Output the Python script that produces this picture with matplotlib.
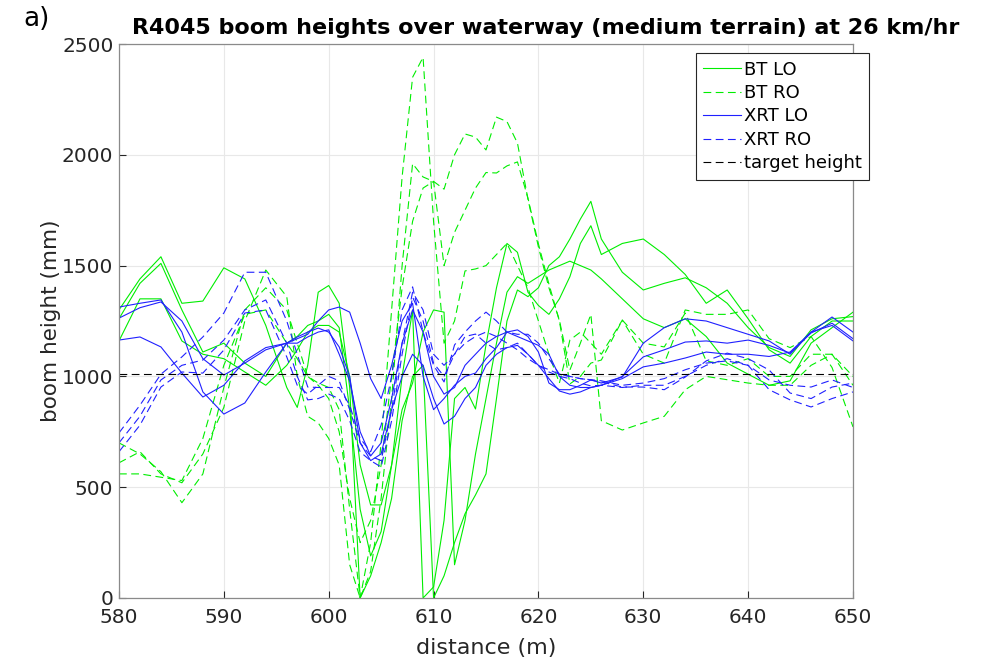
import matplotlib
matplotlib.use("Agg")
import matplotlib.pyplot as plt

# distance along the run (m)
distance = [580, 582, 584, 586, 588, 590, 592, 594, 596,
            597, 598, 599, 600, 601, 602, 603, 604, 605, 606, 607, 608, 609, 610,
            611, 612, 613, 614, 615, 616, 617, 618, 619, 620, 621, 622, 623, 624, 625, 626,
            628, 630, 632, 634, 636, 638, 640, 642, 644, 646, 648, 650]

# boom heights (mm), three passes per configuration
bt_lo = [
    [1300, 1440, 1540, 1330, 1340, 1490, 1440, 1230, 950,
     860, 1050, 1380, 1410, 1330, 950, 0, 100, 250, 450, 800, 1000, 1050, 0,
     100, 250, 380, 465, 560, 900, 1250, 1390, 1360, 1400, 1500, 1540, 1620, 1710, 1790, 1620,
     1470, 1390, 1420, 1445, 1400, 1330, 1220, 1130, 1090, 1210, 1260, 1270],
    [1260, 1420, 1510, 1300, 1110, 1150, 1060, 1000, 1150,
     1180, 1230, 1250, 1280, 1220, 850, 400, 190, 300, 600, 1000, 1300, 0, 50,
     350, 900, 950, 853, 1142, 1400, 1600, 1560, 1380, 1320, 1280, 1350, 1450, 1600, 1680, 1550,
     1600, 1620, 1550, 1460, 1330, 1390, 1260, 1120, 1060, 1180, 1250, 1250],
    [1160, 1350, 1350, 1160, 1100, 1080, 1020, 960, 1050,
     1120, 1200, 1230, 1230, 1200, 1000, 600, 420, 420, 600, 850, 970, 1200, 1300,
     1290, 150, 350, 650, 900, 1150, 1380, 1450, 1420, 1450, 1480, 1500, 1520, 1500, 1480, 1440,
     1350, 1260, 1220, 1260, 1180, 1060, 1010, 960, 980, 1150, 1220, 1290],
]
bt_ro = [
    [700, 650, 570, 430, 560, 950, 1300, 1400, 1300,
     1150, 1000, 970, 950, 850, 400, 0, 250, 700, 1300, 1900, 2350, 2440, 1700,
     1150, 1250, 1476, 1485, 1500, 1550, 1600, 1500, 1400, 1250, 1100, 970, 1164, 1200, 1150, 1100,
     1254, 1100, 1060, 1300, 1280, 1280, 1300, 1170, 1130, 1180, 1040, 772],
    [610, 660, 560, 520, 650, 860, 1250, 1480, 1360,
     1000, 820, 790, 720, 600, 150, 0, 120, 450, 900, 1500, 1960, 1900, 1880,
     1845, 2000, 2094, 2080, 2022, 2170, 2150, 2053, 1800, 1584, 1400, 1254, 1029, 1150, 1280, 800,
     758, 790, 820, 940, 1000, 985, 970, 960, 960, 1050, 1100, 960],
    [560, 560, 545, 530, 720, 1050, 1280, 1300, 1150,
     1080, 1000, 960, 900, 750, 450, 250, 350, 600, 1000, 1400, 1700, 1850, 1880,
     1500, 1650, 1750, 1850, 1920, 1918, 1950, 1968, 1805, 1598, 1417, 1250, 966, 1000, 1060, 1074,
     1254, 1150, 1133, 1286, 1070, 1050, 1080, 1000, 1000, 1100, 1100, 1000],
]
xrt_lo = [
    [1313, 1330, 1345, 1200, 930, 830, 880, 1020, 1150,
     1170, 1190, 1250, 1300, 1313, 1290, 1150, 990, 900, 1050, 1250, 1330, 1000, 850,
     900, 960, 1000, 1015, 1080, 1130, 1200, 1210, 1180, 1110, 970, 940, 940, 960, 984, 970,
     997, 1150, 1220, 1260, 1250, 1220, 1190, 1160, 1100, 1200, 1268, 1200],
    [1263, 1310, 1336, 1250, 1080, 1006, 1060, 1120, 1150,
     1150, 1178, 1200, 1210, 1100, 980, 750, 641, 700, 900, 1150, 1300, 1200, 1000,
     920, 950, 1050, 1100, 1150, 1180, 1200, 1180, 1160, 1140, 1100, 1000, 960, 950, 950, 960,
     1000, 1088, 1120, 1155, 1160, 1150, 1164, 1140, 1105, 1196, 1240, 1170],
    [1164, 1178, 1133, 1015, 907, 960, 1070, 1130, 1150,
     1178, 1200, 1218, 1200, 1133, 1000, 700, 620, 650, 850, 1000, 1100, 1050, 900,
     785, 820, 900, 950, 1050, 1100, 1130, 1140, 1100, 1050, 990, 934, 920, 930, 950, 960,
     990, 1043, 1060, 1083, 1110, 1100, 1100, 1090, 1110, 1200, 1230, 1160],
]
xrt_ro = [
    [745, 870, 1010, 1088, 1178, 1286, 1470, 1470, 1250,
     1100, 952, 950, 950, 950, 870, 720, 660, 780, 1000, 1300, 1404, 1200, 1050,
     975, 1142, 1200, 1250, 1290, 1250, 1200, 1190, 1190, 1150, 1080, 1010, 1000, 990, 984, 975,
     952, 952, 940, 997, 1070, 1105, 1080, 1029, 925, 900, 952, 970],
    [700, 820, 984, 1050, 1074, 1164, 1300, 1345, 1150,
     1000, 894, 900, 920, 900, 800, 659, 620, 591, 800, 1100, 1358, 1250, 1060,
     1000, 1100, 1180, 1191, 1150, 1120, 1130, 1150, 1100, 1050, 1020, 1000, 990, 970, 957, 960,
     950, 960, 960, 1000, 1050, 1080, 1050, 940, 894, 862, 900, 930],
    [660, 780, 952, 1020, 1015, 1119, 1286, 1300, 1088,
     960, 920, 960, 1000, 980, 850, 700, 640, 620, 850, 1150, 1380, 1300, 1100,
     1050, 1100, 1150, 1180, 1200, 1180, 1150, 1120, 1080, 1050, 1030, 1010, 1000, 990, 985, 980,
     960, 970, 990, 1030, 1060, 1070, 1050, 984, 960, 952, 984, 950],
]
target_height = 1010

green = "#00ee00"
blue = "#2020ff"
dash = (0, (7, 4))

fig = plt.figure(figsize=(9.89, 6.58), dpi=100)
ax = fig.add_axes([0.1203, 0.0912, 0.7422, 0.8419])

groups = [(bt_lo, green, "-", "BT LO"), (bt_ro, green, dash, "BT RO"),
          (xrt_lo, blue, "-", "XRT LO"), (xrt_ro, blue, dash, "XRT RO")]
for runs, colour, style, name in groups:
    for i, run in enumerate(runs):
        ax.plot(distance, run, color=colour, linestyle=style, linewidth=0.8,
                label=name if i == 0 else None)

ax.plot([distance[0], distance[-1]], [target_height, target_height],
        color="black", linestyle=dash, linewidth=0.8, label="target height")

ax.set_xlim(580, 650)
ax.set_ylim(0, 2500)
ax.set_xticks(range(580, 651, 10))
ax.set_yticks(range(0, 2501, 500))
ax.grid(True, color="#e8e8e8", linewidth=0.8)
ax.set_axisbelow(True)
ax.tick_params(direction="in", length=5, labelsize=14.5, colors="#262626",
               top=False, right=False)
ax.tick_params(axis="x", pad=7)
ax.tick_params(axis="y", pad=4)
for s in ax.spines.values():
    s.set_color("#8a8a8a")
    s.set_linewidth(0.9)

ax.set_xlabel("distance (m)", fontsize=16, color="#262626", labelpad=8)
ax.set_ylabel("boom height (mm)", fontsize=15.5, color="#262626", labelpad=1)

fig.text(546 / 989, 1 - 28 / 658,
         "R4045 boom heights over waterway (medium terrain) at 26 km/hr",
         ha="center", va="center", fontsize=16, fontweight="bold")
fig.text(37 / 989, 1 - 19 / 658, "a)", ha="center", va="center", fontsize=19)

leg = ax.legend(loc="upper left", bbox_to_anchor=((696 - 119) / 734, 0.983), borderaxespad=0,
                fontsize=13, fancybox=False, framealpha=1, edgecolor="#262626",
                handlelength=2.1, handletextpad=0.15, labelspacing=0.3,
                borderpad=0.4)
leg.get_frame().set_linewidth(0.8)

fig.savefig("out.png", dpi=100)
